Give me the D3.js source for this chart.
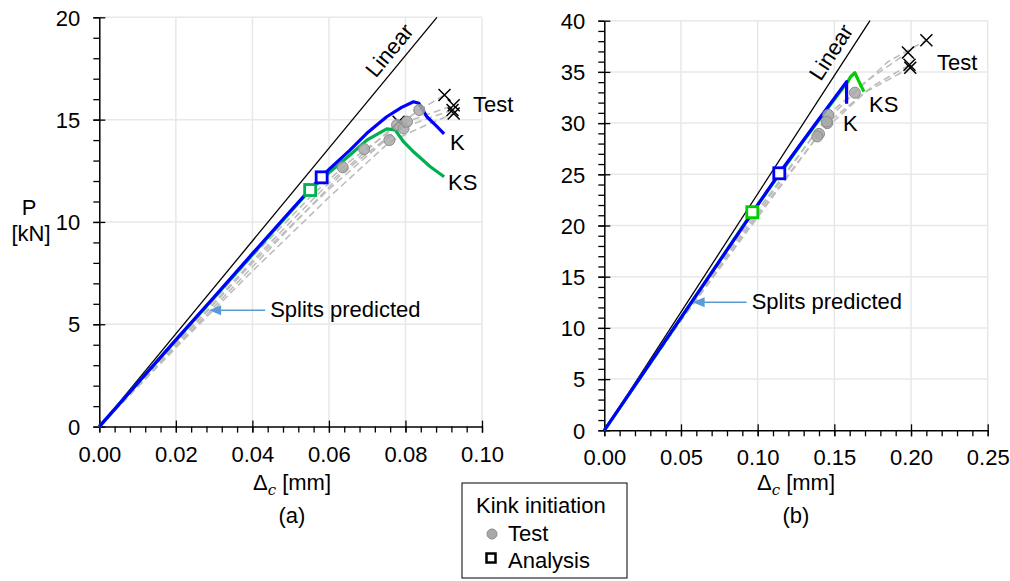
<!DOCTYPE html>
<html><head><meta charset="utf-8">
<script src="https://cdn.jsdelivr.net/npm/d3@7"></script>
<style>
body{margin:0;background:#fff;}
svg text{font-family:"Liberation Sans",Arial,sans-serif;fill:#000;}
</style></head>
<body>
<svg id="c" width="1010" height="581"></svg>
<script>
// ---------- data: panel (a) ----------
const aXTicks = [0, 0.02, 0.04, 0.06, 0.08, 0.10];
const aYTicks = [0, 5, 10, 15, 20];
const aLinearSlope = 226.7;
const aK = [[0,0],[0.01,2.12],[0.02,4.24],[0.03,6.33],[0.04,8.45],[0.05,10.55],[0.058,12.2],[0.0603,12.62],[0.0655,13.51],[0.0699,14.33],[0.0751,15.14],[0.079,15.6],[0.0821,15.87],[0.0835,15.8],[0.0856,15.14],[0.0878,14.74],[0.0901,14.3]];
const aKS = [[0,0],[0.01,2.12],[0.02,4.22],[0.03,6.3],[0.04,8.4],[0.05,10.5],[0.0551,11.56],[0.06,12.4],[0.0655,13.27],[0.0699,14.0],[0.0751,14.55],[0.0773,14.5],[0.0795,13.92],[0.0821,13.43],[0.0865,12.7],[0.0901,12.21]];
const aTests = [
  [[0,0],[0.02,4.1],[0.04,8.3],[0.055,11.2],[0.065,12.9],[0.075,14.3],[0.0836,15.47],[0.0902,16.2]],
  [[0,0],[0.02,4.0],[0.04,8.0],[0.06,11.6],[0.0692,13.1],[0.0804,14.9],[0.0926,15.7]],
  [[0,0],[0.02,3.9],[0.04,7.8],[0.0636,12.4],[0.0778,14.5],[0.085,15.0],[0.0923,15.47]],
  [[0,0],[0.02,3.85],[0.04,7.6],[0.06,11.2],[0.0758,13.9],[0.085,14.7],[0.0926,15.3]],
  [[0,0],[0.02,4.0],[0.04,8.1],[0.06,11.9],[0.07,13.5],[0.0782,14.9]]
];
const aKinkTest = [[0.0636,12.67],[0.0692,13.56],[0.0758,14.0],[0.0778,14.74],[0.0795,14.57],[0.0804,14.9],[0.0836,15.47]];
const aKinkK = [0.0581, 12.18];
const aKinkKS = [0.0551, 11.56];
const aSplit = [0.0287, 5.69];

// ---------- data: panel (b) ----------
const bXTicks = [0, 0.05, 0.10, 0.15, 0.20, 0.25];
const bYTicks = [0, 5, 10, 15, 20, 25, 30, 35, 40];
const bLinearSlope = 230.9;
const bK = [[0,0],[0.05,11.0],[0.1141,25.1],[0.14,30.4],[0.158,34.05],[0.158,31.9]];
const bKS = [[0,0],[0.05,10.95],[0.0965,21.3],[0.13,28.3],[0.1588,34.05],[0.1605,34.5],[0.1634,34.92],[0.1656,34.2],[0.1693,33.07]];
const bTests = [
  [[0,0],[0.05,11.0],[0.10,21.5],[0.14,29.5],[0.1634,33.0],[0.185,36.0],[0.21,38.1]],
  [[0,0],[0.05,10.9],[0.10,21.2],[0.146,30.8],[0.17,34.0],[0.198,36.9]],
  [[0,0],[0.05,10.8],[0.10,21.0],[0.1454,30.0],[0.175,33.6],[0.199,35.7]],
  [[0,0],[0.05,10.7],[0.10,20.8],[0.139,28.7],[0.17,33.0],[0.1995,35.4]]
];
const bKinkTest = [[0.1634,32.97],[0.146,30.8],[0.1454,30.0],[0.145,30.15],[0.14,28.95],[0.1389,28.7]];
const bKinkK = [0.1141, 25.1];
const bKinkKS = [0.0965, 21.3];
const bSplit = [0.0576, 12.5];

const FS = 22;
const svg = d3.select("#c");

function panel(o){
  const x = d3.scaleLinear().domain(o.xd).range(o.xr);
  const y = d3.scaleLinear().domain(o.yd).range(o.yr);
  const g = svg.append("g");
  // gridlines
  g.selectAll(".gx").data(o.xTicks.slice(1)).join("line")
    .attr("x1",d=>x(d)).attr("x2",d=>x(d)).attr("y1",o.yr[0]).attr("y2",o.yr[1])
    .attr("stroke","#e8e8e8").attr("stroke-width",1.5);
  g.selectAll(".gy").data(o.yTicks.slice(1)).join("line")
    .attr("y1",d=>y(d)).attr("y2",d=>y(d)).attr("x1",o.xr[0]).attr("x2",o.xr[1])
    .attr("stroke","#e8e8e8").attr("stroke-width",1.5);

  // minor ticks
  const xm = d3.range(o.xd[0], o.xd[1]+1e-9, o.xMinor);
  const ym = d3.range(o.yd[0], o.yd[1]+1e-9, o.yMinor);
  const gxm = g.append("g").attr("transform",`translate(0,${o.yr[0]})`)
    .call(d3.axisBottom(x).tickValues(xm).tickSize(6).tickFormat(""));
  gxm.select(".domain").remove();
  const gym = g.append("g").attr("transform",`translate(${o.xr[0]},0)`)
    .call(d3.axisLeft(y).tickValues(ym).tickSize(6).tickFormat(""));
  gym.select(".domain").remove();
  // major ticks (crossing)
  const gx = g.append("g").attr("transform",`translate(0,${o.yr[0]})`)
    .call(d3.axisBottom(x).tickValues(o.xTicks).tickSize(6).tickSizeOuter(0).tickFormat(d3.format(".2f")));
  gx.selectAll(".tick line").attr("y1",-6);
  gx.selectAll("text").attr("font-size",FS).attr("font-family","Liberation Sans, Arial").attr("dy","0").attr("y",35);
  const gy = g.append("g").attr("transform",`translate(${o.xr[0]},0)`)
    .call(d3.axisLeft(y).tickValues(o.yTicks).tickSize(6).tickSizeOuter(0).tickFormat(d3.format("d")));
  gy.selectAll(".tick line").attr("x1",6);
  gy.selectAll("text").attr("font-size",FS).attr("font-family","Liberation Sans, Arial").attr("x",-19).attr("dy","0.35em");
  g.selectAll(".domain").attr("stroke","#000").attr("stroke-width",1.5);
  g.selectAll(".tick line").attr("stroke","#000").attr("stroke-width",1.3);

  const line = d3.line().x(d=>x(d[0])).y(d=>y(d[1]));
  // linear reference
  const xEnd = o.yd[1]/o.slope;
  g.append("path").datum([[0,0],[xEnd,o.yd[1]]]).attr("d",line)
    .attr("fill","none").attr("stroke","#000").attr("stroke-width",1.3);
  const ang = Math.atan2(y(0)-y(o.yd[1]), x(xEnd)-x(0))*180/Math.PI;
  const lp = o.linearLabelAt, r = ang*Math.PI/180, off = 8;
  g.append("text").attr("transform",`translate(${x(lp/o.slope)-off*Math.sin(r)},${y(lp)-off*Math.cos(r)}) rotate(${-ang})`)
    .attr("text-anchor","middle").attr("font-size",FS).text("Linear");

  // test curves
  g.selectAll(".t").data(o.tests).join("path").attr("d",line)
    .attr("fill","none").attr("stroke","#bdbdbd").attr("stroke-width",1.6).attr("stroke-dasharray","7,4");
  // test endpoints (x markers)
  const xs = 6;
  o.tests.forEach(t=>{
    const p = t[t.length-1], cx = x(p[0]), cy = y(p[1]);
    g.append("path").attr("d",`M${cx-xs},${cy-xs}L${cx+xs},${cy+xs}M${cx-xs},${cy+xs}L${cx+xs},${cy-xs}`)
      .attr("stroke","#000").attr("stroke-width",1.5);
  });
  // analysis curves
  g.append("path").datum(o.KS).attr("d",line).attr("fill","none").attr("stroke",o.green).attr("stroke-width",3.2).attr("stroke-linejoin","round");
  g.append("path").datum(o.K).attr("d",line).attr("fill","none").attr("stroke","#0000ff").attr("stroke-width",3.2).attr("stroke-linejoin","round");
  // kink test circles
  g.selectAll(".kc").data(o.kinkTest).join("circle")
    .attr("cx",d=>x(d[0])).attr("cy",d=>y(d[1])).attr("r",5.5)
    .attr("fill","#a9a9a9").attr("fill-opacity",0.85).attr("stroke","#8c8c8c").attr("stroke-width",1);
  // kink analysis squares
  [[o.kinkKS,o.green],[o.kinkK,"#0000ff"]].forEach(([p,c])=>{
    g.append("rect").attr("x",x(p[0])-5.5).attr("y",y(p[1])-5.5).attr("width",11).attr("height",11)
      .attr("fill","#fff").attr("stroke",c).attr("stroke-width",2.8);
  });
  // splits predicted arrow
  const sx = x(o.split[0]), sy = y(o.split[1]);
  g.append("line").attr("x1",sx+10).attr("x2",sx+o.arrowLen).attr("y1",sy).attr("y2",sy)
    .attr("stroke","#5b9bd5").attr("stroke-width",1.5);
  g.append("path").attr("d",`M${sx},${sy}L${sx+12},${sy-5}L${sx+12},${sy+5}Z`).attr("fill","#5b9bd5");
  g.append("text").attr("x",sx+o.arrowLen+5).attr("y",sy+7).attr("font-size",FS).text("Splits predicted");
  // curve labels
  o.labels.forEach(l=>g.append("text").attr("x",l[0]).attr("y",l[1]).attr("font-size",FS).text(l[2]));
  // x axis title
  const t = g.append("text").attr("x",o.xTitle[0]).attr("y",o.xTitle[1]).attr("text-anchor","middle").attr("font-size",FS);
  t.append("tspan").text("Δ");
  t.append("tspan").attr("font-style","italic").attr("font-family","DejaVu Serif, serif").attr("font-size",15).attr("dy",5).text("c");
  t.append("tspan").attr("dy",-5).text(" [mm]");
  g.append("text").attr("x",o.xTitle[0]).attr("y",o.xTitle[1]+33).attr("text-anchor","middle").attr("font-size",FS).text(o.tag);
}

panel({xd:[0,0.10], xr:[99.3,482], yd:[0,20], yr:[426.6,17.3], xTicks:aXTicks, yTicks:aYTicks,
  xMinor:0.004, yMinor:1, slope:aLinearSlope, linearLabelAt:17.9,
  tests:aTests, K:aK, KS:aKS, kinkTest:aKinkTest, kinkK:aKinkK, kinkKS:aKinkKS, green:"#00b050",
  split:aSplit, arrowLen:56, labels:[[473,112,"Test"],[450,150,"K"],[448,190,"KS"]],
  xTitle:[292,490], tag:"(a)"});
panel({xd:[0,0.25], xr:[604.3,987.7], yd:[0,40], yr:[430.3,20.7], xTicks:bXTicks, yTicks:bYTicks,
  xMinor:0.01, yMinor:1, slope:bLinearSlope, linearLabelAt:36.1,
  tests:bTests, K:bK, KS:bKS, kinkTest:bKinkTest, kinkK:bKinkK, kinkKS:bKinkKS, green:"#00cc00",
  split:bSplit, arrowLen:54, labels:[[937,70,"Test"],[869,112,"KS"],[843,131,"K"]],
  xTitle:[796,490], tag:"(b)"});

// y axis title (left)
svg.append("text").attr("x",29).attr("y",215).attr("text-anchor","middle").attr("font-size",FS).text("P");
svg.append("text").attr("x",31).attr("y",241).attr("text-anchor","middle").attr("font-size",FS).text("[kN]");

// legend
const lg = svg.append("g");
lg.append("rect").attr("x",462).attr("y",483).attr("width",165).attr("height",95).attr("fill","#fff").attr("stroke","#000").attr("stroke-width",1);
lg.append("text").attr("x",476).attr("y",513).attr("font-size",FS).text("Kink initiation");
lg.append("circle").attr("cx",492).attr("cy",534).attr("r",5).attr("fill","#a9a9a9").attr("stroke","#8c8c8c");
lg.append("text").attr("x",508).attr("y",541).attr("font-size",FS).text("Test");
lg.append("rect").attr("x",486.5).attr("y",553.5).attr("width",9).attr("height",9).attr("fill","#fff").attr("stroke","#000").attr("stroke-width",2.5);
lg.append("text").attr("x",508).attr("y",568).attr("font-size",FS).text("Analysis");
</script>
</body></html>
